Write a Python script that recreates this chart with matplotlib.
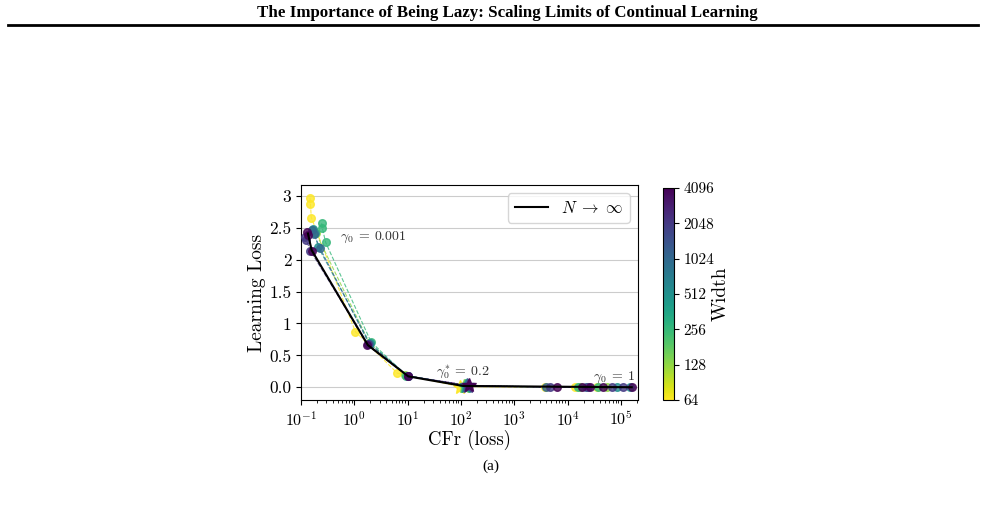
import numpy as np
import matplotlib
matplotlib.use("Agg")
import matplotlib.pyplot as plt
from matplotlib.colors import LogNorm
from matplotlib.ticker import FixedLocator, FixedFormatter, NullFormatter

plt.rcParams['font.family'] = 'cmr10'
plt.rcParams['mathtext.fontset'] = 'cm'
plt.rcParams['axes.unicode_minus'] = False
plt.rcParams['axes.formatter.use_mathtext'] = True

# widths and per-width (CFr, loss) curves
widths = [64, 128, 256, 512, 1024, 2048, 4096]

cfr_64 = [0.148, 0.150, 0.156, 1.05, 6.4, 95, 3.8e3, 1.4e4, 3.6e4]
loss_64 = [2.97, 2.88, 2.66, 0.87, 0.22, 0.01, 0.0, 0.0, 0.0]

cfr_128 = [0.17, 0.19, 1.9, 9.0, 112, 1.7e4, 5.5e4]
loss_128 = [2.47, 2.42, 0.70, 0.19, 0.02, 0.0, 0.0]

cfr_256 = [0.244, 0.252, 0.29, 2.06, 9.5, 120, 1.6e4, 3.8e4]
loss_256 = [2.57, 2.49, 2.27, 0.71, 0.18, 0.02, 0.0, 0.0]

cfr_512 = [0.17, 0.182, 0.21, 1.95, 10.0, 125, 8.5e4, 1.5e5]
loss_512 = [2.48, 2.41, 2.20, 0.69, 0.18, 0.02, 0.0, 0.0]

cfr_1024 = [0.16, 0.175, 0.227, 1.9, 10.0, 130, 4.0e3, 2.2e4]
loss_1024 = [2.46, 2.40, 2.18, 0.68, 0.18, 0.03, 0.0, 0.0]

cfr_2048 = [0.118, 0.125, 0.15, 1.8, 10.2, 135, 4.7e3, 2.4e4, 6.8e4, 1.1e5]
loss_2048 = [2.36, 2.31, 2.14, 0.67, 0.18, 0.02, 0.0, 0.0, 0.0, 0.0]

cfr_4096 = [0.128, 0.134, 0.16, 1.75, 10.3, 140, 6.3e3, 1.9e4, 2.6e4, 4.6e4, 1.6e5]
loss_4096 = [2.44, 2.39, 2.14, 0.66, 0.17, 0.03, 0.0, 0.0, 0.0, 0.0, 0.0]

star_idx = [5, 4, 5, 5, 5, 5, 5]   # gamma0* = 0.2 point

cfr_inf = [0.135, 0.158, 1.8, 10.3, 110, 1.6e5]
loss_inf = [2.41, 2.15, 0.66, 0.17, 0.02, 0.0]

all_cfr = [cfr_64, cfr_128, cfr_256, cfr_512, cfr_1024, cfr_2048, cfr_4096]
all_loss = [loss_64, loss_128, loss_256, loss_512, loss_1024, loss_2048, loss_4096]

cb_ticks = [64, 128, 256, 512, 1024, 2048, 4096]
y_ticks = [0, 0.5, 1, 1.5, 2, 2.5, 3]
y_labels = ['0.0', '0.5', '1', '1.5', '2', '2.5', '3']

fig = plt.figure(figsize=(9.85, 5.05), dpi=100)

# page header
fig.text(257 / 985, 1 - 13 / 505, 'The Importance of Being Lazy: Scaling Limits of Continual Learning',
         family='Liberation Serif', weight='bold', fontsize=12.2, ha='left', va='center')
fig.add_artist(plt.Line2D([8 / 985, 978 / 985], [1 - 25 / 505, 1 - 25 / 505], color='black', lw=2))
fig.text(491 / 985, 1 - 466 / 505, '(a)', family='Liberation Serif', fontsize=11, ha='center', va='center')

ax = fig.add_axes([301 / 985, 1 - 400 / 505, 337 / 985, 215 / 505])
cax = fig.add_axes([663 / 985, 1 - 400 / 505, 11 / 985, 212 / 505])

cmap = plt.get_cmap('viridis_r')
norm = LogNorm(vmin=64, vmax=4096)

for w, xs, ys, si in zip(widths, all_cfr, all_loss, star_idx):
    c = cmap(norm(w))
    ax.plot(xs, ys, ls='--', lw=0.8, color=c, alpha=0.8, zorder=2)
    pts = [i for i in range(len(xs)) if i != si]
    ax.plot([xs[i] for i in pts], [ys[i] for i in pts], ls='none', marker='o', ms=5.5,
            color=c, alpha=0.8, zorder=3)
    ax.plot([xs[si]], [ys[si]], ls='none', marker='*', ms=10, color=c, alpha=0.9, zorder=3)

ax.plot(cfr_inf, loss_inf, color='black', lw=1.5, label=r'$N \;\to\; \infty$', zorder=4)

ax.set_xscale('log')
ax.set_xlim(0.1, 2.1e5)
ax.set_ylim(-0.2, 3.17)
ax.yaxis.set_major_locator(FixedLocator(y_ticks))
ax.yaxis.set_major_formatter(FixedFormatter(y_labels))
ax.grid(axis='y', color='#cccccc', lw=0.8)
ax.set_axisbelow(True)
ax.tick_params(axis='y', labelsize=12.5)
ax.tick_params(axis='x', labelsize=11.5)
ax.set_xlabel('CFr (loss)', fontsize=13.5, labelpad=1)
ax.set_ylabel('Learning Loss', fontsize=14, labelpad=2)

ax.text(0.54, 2.35, r'$\gamma_0 \:=\: 0.001$', fontsize=10, color='#333333', va='center')
ax.text(34, 0.24, r'$\gamma_0^{*} \:=\: 0.2$', fontsize=10, color='#333333', va='center')
ax.text(3.0e4, 0.16, r'$\gamma_0 \:=\: 1$', fontsize=10, color='#333333', va='center')

ax.legend(loc='upper right', fontsize=12, handlelength=2.0, fancybox=True)

sm = matplotlib.cm.ScalarMappable(norm=norm, cmap=cmap)
cb = fig.colorbar(sm, cax=cax)
cb.set_ticks(cb_ticks)
cb.set_ticklabels([str(t) for t in cb_ticks])
cb.ax.yaxis.set_minor_formatter(NullFormatter())
cb.ax.minorticks_off()
cb.ax.tick_params(labelsize=11)
cb.set_label('Width', fontsize=14, labelpad=-2)

fig.savefig('out.png', dpi=100)
